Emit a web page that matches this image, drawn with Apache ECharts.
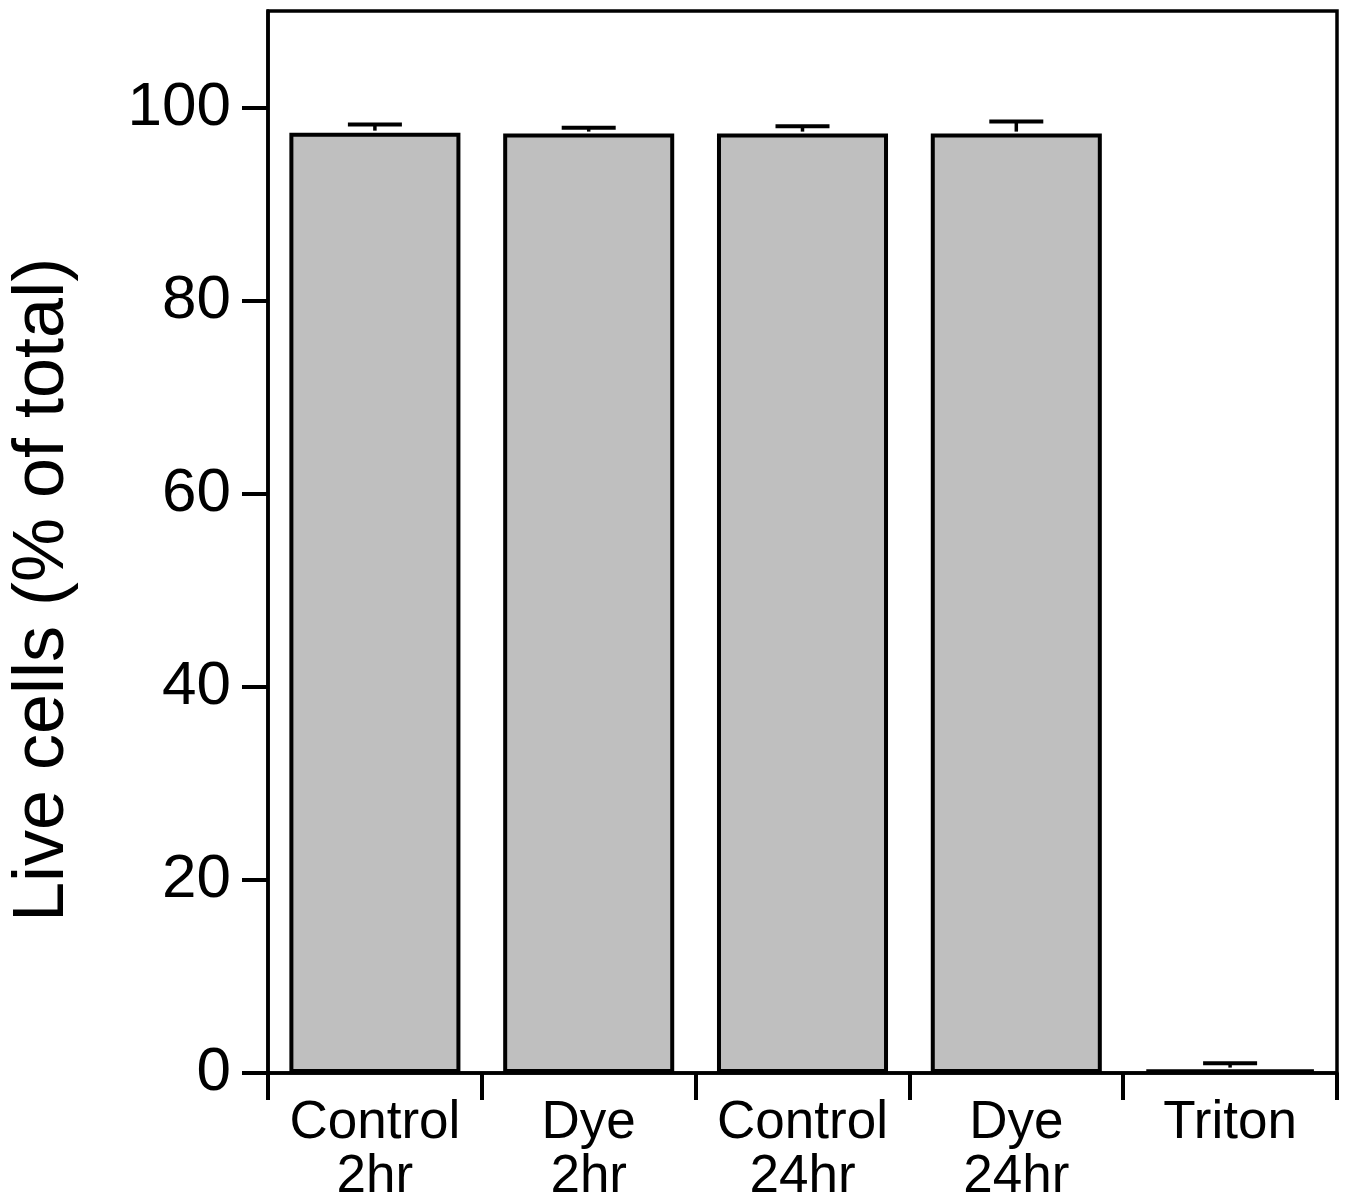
<!DOCTYPE html>
<html>
<head>
<meta charset="utf-8">
<script src="https://cdn.jsdelivr.net/npm/echarts@6/dist/echarts.min.js"></script>
<style>
  html, body { margin: 0; padding: 0; background: #fff; }
  #chart { width: 1347px; height: 1203px; }
</style>
</head>
<body>
<div id="chart"></div>
<script>
// categories (two-line labels)
const categories = ['Control\n2hr', 'Dye\n2hr', 'Control\n24hr', 'Dye\n24hr', 'Triton']
// mean live cells (% of total)
const liveCells = [97.4, 97.3, 97.3, 97.3, 0.35]
// error (upper only)
const errors = [0.85, 0.6, 0.75, 1.25, 0.65]
// y ticks
const yTicks = [0, 20, 40, 60, 80, 100]

const FONT = 'Liberation Sans, Arial, Helvetica, sans-serif'

const chart = echarts.init(document.getElementById('chart'))

const errorData = liveCells.map((v, i) => [i, v, v + errors[i]])

const option = {
  backgroundColor: '#fff',
  animation: false,
  grid: {
    left: 268,
    right: 10,
    top: 11,
    bottom: 130,
    containLabel: false,
    outerBoundsMode: 'none',
    show: true,
    borderColor: '#000',
    borderWidth: 3.5
  },
  xAxis: {
    type: 'category',
    data: categories,
    axisLine: { show: true, lineStyle: { color: '#000', width: 3.5 } },
    axisTick: { show: true, length: 27, interval: 0, lineStyle: { color: '#000', width: 4 } },
    axisLabel: {
      interval: 0,
      color: '#000',
      fontFamily: FONT,
      fontSize: 53,
      lineHeight: 54,
      margin: 23
    }
  },
  yAxis: {
    type: 'value',
    min: 0,
    max: 110,
    name: 'Live cells (% of total)',
    nameLocation: 'middle',
    nameGap: 189,
    nameTextStyle: {
      color: '#000',
      fontFamily: FONT,
      fontSize: 72,
      padding: [0, 96, 0, 0]
    },
    splitLine: { show: false },
    axisLine: { show: true, lineStyle: { color: '#000', width: 3.5 } },
    axisTick: { show: true, length: 26, customValues: yTicks, lineStyle: { color: '#000', width: 4 } },
    axisLabel: {
      customValues: yTicks,
      color: '#000',
      fontFamily: FONT,
      fontSize: 62,
      margin: 37
    }
  },
  series: [
    {
      type: 'bar',
      data: liveCells,
      barCategoryGap: '20%',
      itemStyle: { color: '#bfbfbf', borderColor: '#000', borderWidth: 4 }
    },
    {
      type: 'custom',
      data: errorData,
      z: 3,
      renderItem: function (params, api) {
        const lo = api.coord([api.value(0), api.value(1)])
        const hi = api.coord([api.value(0), api.value(2)])
        const half = 27
        return {
          type: 'group',
          children: [
            {
              type: 'line',
              shape: { x1: lo[0], y1: lo[1] - 2, x2: hi[0], y2: hi[1] },
              style: { stroke: '#000', lineWidth: 3.5 }
            },
            {
              type: 'line',
              shape: { x1: hi[0] - half, y1: hi[1], x2: hi[0] + half, y2: hi[1] },
              style: { stroke: '#000', lineWidth: 4 }
            }
          ]
        }
      }
    }
  ]
}

chart.setOption(option)
</script>
</body>
</html>
